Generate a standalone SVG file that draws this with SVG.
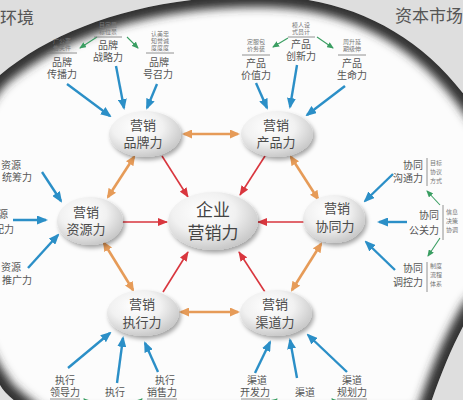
<svg xmlns="http://www.w3.org/2000/svg" width="463" height="400" viewBox="0 0 463 400">
<defs>
<style>
.t{font-family:"Liberation Sans","Noto Sans CJK SC",sans-serif;fill:#555;text-anchor:middle}
.nl{font-size:13px;fill:#4a4a4a}
.lb{font-size:10px}
.sm{font-size:6px;fill:#777}
.corner{font-size:17px;fill:#555}
.blue{stroke:#2b8fc7;stroke-width:2.4;fill:none;marker-end:url(#mb)}
.red{stroke:#d9363e;stroke-width:1.6;fill:none;marker-end:url(#mr)}
.org{stroke:#e69b58;stroke-width:2.6;fill:none;marker-start:url(#mo);marker-end:url(#mo)}
.grn{stroke:#3a9e62;stroke-width:1.1;fill:none;marker-end:url(#mg)}
.ul{stroke:#777;stroke-width:0.8}
.node{fill:url(#ng);filter:url(#sh)}
</style>
<radialGradient id="ng" cx="40%" cy="35%" r="70%">
<stop offset="0" stop-color="#ffffff"/>
<stop offset="0.5" stop-color="#f1f1f1"/>
<stop offset="1" stop-color="#c4c4c4"/>
</radialGradient>
<filter id="sh" x="-30%" y="-30%" width="160%" height="170%">
<feDropShadow dx="2" dy="3" stdDeviation="2.2" flood-color="#000" flood-opacity="0.35"/>
</filter>
<filter id="rb" x="-20%" y="-20%" width="140%" height="140%"><feGaussianBlur stdDeviation="5"/></filter>
<path id="rim" d="M -45,220 C -45,150 -25,100 0,75 C 60,25 150,-4 260,-4 C 350,-4 425,35 475,110 C 510,160 560,190 560,220 C 560,250 505,270 472,310 C 452,345 440,375 425,420 L 40,420 C 20,405 5,395 0,385 C -25,350 -45,290 -45,220 Z"/>
<clipPath id="inside"><use href="#rim"/></clipPath>
<marker id="mb" markerUnits="userSpaceOnUse" markerWidth="11" markerHeight="9" refX="9" refY="4.5" orient="auto"><path d="M0,0 L11,4.5 L0,9 z" fill="#2b8fc7"/></marker>
<marker id="mr" markerUnits="userSpaceOnUse" markerWidth="10" markerHeight="8" refX="9" refY="4" orient="auto"><path d="M0,0 L10,4 L0,8 z" fill="#d9363e"/></marker>
<marker id="mo" markerUnits="userSpaceOnUse" markerWidth="10" markerHeight="9" refX="8" refY="4.5" orient="auto-start-reverse"><path d="M0,0 L10,4.5 L0,9 z" fill="#e69b58"/></marker>
<marker id="mg" markerUnits="userSpaceOnUse" markerWidth="7" markerHeight="6" refX="6" refY="3" orient="auto"><path d="M0,0 L7,3 L0,6 z" fill="#3a9e62"/></marker>
</defs>

<g id="background">
<rect width="463" height="400" fill="#dedede"/>
<use href="#rim" fill="#fcfcfc"/>
<g clip-path="url(#inside)">
<use href="#rim" fill="none" stroke="#333" stroke-width="22" filter="url(#rb)"/>
</g>
<text class="t corner" x="0" y="24" style="text-anchor:start">环境</text>
<text class="t corner" x="463" y="22" style="text-anchor:end">资本市场</text>
</g>

<g id="connectors">
<line class="org" x1="184" y1="134" x2="238" y2="134"/>
<line class="org" x1="134" y1="157" x2="108" y2="197"/>
<line class="org" x1="291" y1="157" x2="318" y2="199"/>
<line class="org" x1="104" y1="243" x2="133" y2="290"/>
<line class="org" x1="321" y1="244" x2="292" y2="290"/>
<line class="org" x1="181" y1="312" x2="238" y2="312"/>
<line class="red" x1="162" y1="156" x2="188" y2="197"/>
<line class="red" x1="265" y1="156" x2="240" y2="195"/>
<line class="red" x1="122" y1="222" x2="167" y2="222"/>
<line class="red" x1="304" y1="222" x2="258" y2="222"/>
<line class="red" x1="163" y1="292" x2="188" y2="252"/>
<line class="red" x1="265" y1="292" x2="239" y2="252"/>
<line class="blue" x1="67" y1="84" x2="110" y2="116"/>
<line class="blue" x1="116" y1="66" x2="124" y2="108"/>
<line class="blue" x1="157" y1="84" x2="147" y2="108"/>
<line class="blue" x1="256" y1="83" x2="267" y2="108"/>
<line class="blue" x1="297" y1="65" x2="290" y2="107"/>
<line class="blue" x1="345" y1="86" x2="307" y2="115"/>
<line class="blue" x1="42" y1="172" x2="61" y2="201"/>
<line class="blue" x1="13" y1="220" x2="46" y2="220"/>
<line class="blue" x1="28" y1="268" x2="58" y2="235"/>
<line class="blue" x1="393" y1="174" x2="365" y2="201"/>
<line class="blue" x1="407" y1="222" x2="379" y2="222"/>
<line class="blue" x1="395" y1="270" x2="366" y2="242"/>
<line class="blue" x1="68" y1="368" x2="110" y2="333"/>
<line class="blue" x1="117" y1="383" x2="123" y2="338"/>
<line class="blue" x1="158" y1="372" x2="145" y2="343"/>
<line class="blue" x1="255" y1="373" x2="270" y2="342"/>
<line class="blue" x1="297" y1="378" x2="290" y2="340"/>
<line class="blue" x1="347" y1="372" x2="308" y2="335"/>
<line class="grn" x1="97" y1="37" x2="80" y2="48"/>
<line class="grn" x1="127" y1="37" x2="138" y2="48"/>
<line class="grn" x1="288" y1="38" x2="273" y2="47"/>
<line class="grn" x1="317" y1="37" x2="333" y2="48"/>
<line class="grn" x1="440" y1="205" x2="427" y2="191"/>
<line class="grn" x1="440" y1="238" x2="428" y2="256"/>
<line class="grn" x1="90" y1="404" x2="84" y2="399"/>
<line class="grn" x1="136" y1="404" x2="142" y2="399"/>
<line class="grn" x1="270" y1="404" x2="277" y2="399"/>
<line class="grn" x1="338" y1="404" x2="332" y2="399"/>
</g>

<g id="center">
<ellipse class="node" cx="213" cy="221" rx="45" ry="29"/>
<text class="t" x="213" y="216" style="font-size:17px;fill:#444">企业</text>
<text class="t" x="213" y="239" style="font-size:17px;fill:#444">营销力</text>
</g>
<g id="brand">
<ellipse class="node" cx="145" cy="134" rx="36" ry="23"/>
<text class="t nl" x="143" y="130">营销</text>
<text class="t nl" x="143" y="147">品牌力</text>
</g>
<g id="product">
<ellipse class="node" cx="277" cy="134" rx="36" ry="23"/>
<text class="t nl" x="276" y="130">营销</text>
<text class="t nl" x="276" y="147">产品力</text>
</g>
<g id="resource">
<ellipse class="node" cx="90" cy="221" rx="33" ry="24"/>
<text class="t nl" x="86" y="217">营销</text>
<text class="t nl" x="86" y="234">资源力</text>
</g>
<g id="coop">
<ellipse class="node" cx="334" cy="219" rx="31" ry="24"/>
<text class="t nl" x="337" y="213">营销</text>
<text class="t nl" x="335" y="231">协同力</text>
</g>
<g id="exec">
<ellipse class="node" cx="143" cy="313" rx="36" ry="23"/>
<text class="t nl" x="142" y="309">营销</text>
<text class="t nl" x="142" y="327">执行力</text>
</g>
<g id="channel">
<ellipse class="node" cx="276" cy="313" rx="36" ry="23"/>
<text class="t nl" x="275" y="309">营销</text>
<text class="t nl" x="275" y="327">渠道力</text>
</g>

<g id="brand-spread">
<text class="t sm" x="62" y="43">广公事</text>
<text class="t sm" x="62" y="50">告关件</text>
<line class="ul" x1="47" y1="53" x2="77" y2="53"/>
<text class="t lb" x="62" y="66">品牌</text>
<text class="t lb" x="62" y="78">传播力</text>
</g>
<g id="brand-strategy">
<text class="t sm" x="108" y="27">目定愿</text>
<text class="t sm" x="108" y="34">标位景</text>
<line class="ul" x1="94" y1="37" x2="122" y2="37"/>
<text class="t lb" x="108" y="49">品牌</text>
<text class="t lb" x="108" y="61">战略力</text>
</g>
<g id="brand-appeal">
<text class="t sm" x="160" y="36">认美忠</text>
<text class="t sm" x="160" y="43">知誉诚</text>
<text class="t sm" x="160" y="50">度度度</text>
<line class="ul" x1="146" y1="53" x2="174" y2="53"/>
<text class="t lb" x="159" y="66">品牌</text>
<text class="t lb" x="158" y="78">号召力</text>
</g>
<g id="product-value">
<text class="t sm" x="256" y="44">定服包</text>
<text class="t sm" x="256" y="51">价务装</text>
<line class="ul" x1="242" y1="55" x2="270" y2="55"/>
<text class="t lb" x="256" y="67">产品</text>
<text class="t lb" x="256" y="79">价值力</text>
</g>
<g id="product-innovation">
<text class="t sm" x="301" y="27">模人设</text>
<text class="t sm" x="301" y="34">式员计</text>
<line class="ul" x1="288" y1="37" x2="315" y2="37"/>
<text class="t lb" x="301" y="48">产品</text>
<text class="t lb" x="301" y="60">创新力</text>
</g>
<g id="product-life">
<text class="t sm" x="352" y="44">周升延</text>
<text class="t sm" x="352" y="51">期级伸</text>
<line class="ul" x1="338" y1="55" x2="366" y2="55"/>
<text class="t lb" x="352" y="67">产品</text>
<text class="t lb" x="352" y="79">生命力</text>
</g>

<g id="resource-coord">
<text class="t lb" x="21" y="169" style="text-anchor:end">资源</text>
<text class="t lb" x="32" y="181" style="text-anchor:end">统筹力</text>
</g>
<g id="resource-alloc">
<text class="t lb" x="8" y="218" style="text-anchor:end">资源</text>
<text class="t lb" x="14" y="233" style="text-anchor:end">调配力</text>
</g>
<g id="resource-promo">
<text class="t lb" x="21" y="271" style="text-anchor:end">资源</text>
<text class="t lb" x="32" y="284" style="text-anchor:end">推广力</text>
</g>

<g id="coop-comm">
<text class="t lb" x="423" y="169" style="text-anchor:end">协同</text>
<text class="t lb" x="423" y="182" style="text-anchor:end">沟通力</text>
<line class="ul" x1="427" y1="158" x2="427" y2="186"/>
<text class="t sm" x="430" y="165" style="text-anchor:start">目标</text>
<text class="t sm" x="430" y="174" style="text-anchor:start">协议</text>
<text class="t sm" x="430" y="183" style="text-anchor:start">方式</text>
</g>
<g id="coop-pr">
<text class="t lb" x="439" y="219" style="text-anchor:end">协同</text>
<text class="t lb" x="439" y="234" style="text-anchor:end">公关力</text>
<line class="ul" x1="443" y1="205" x2="443" y2="240"/>
<text class="t sm" x="446" y="214" style="text-anchor:start">信息</text>
<text class="t sm" x="446" y="223" style="text-anchor:start">决策</text>
<text class="t sm" x="446" y="232" style="text-anchor:start">协调</text>
</g>
<g id="coop-control">
<text class="t lb" x="423" y="272" style="text-anchor:end">协同</text>
<text class="t lb" x="423" y="286" style="text-anchor:end">调控力</text>
<line class="ul" x1="427" y1="262" x2="427" y2="292"/>
<text class="t sm" x="430" y="268" style="text-anchor:start">制度</text>
<text class="t sm" x="430" y="277" style="text-anchor:start">流程</text>
<text class="t sm" x="430" y="286" style="text-anchor:start">体系</text>
</g>

<g id="exec-lead">
<text class="t lb" x="65" y="384">执行</text>
<text class="t lb" x="65" y="396">领导力</text>
<line class="ul" x1="50" y1="399" x2="80" y2="399"/>
</g>
<g id="exec-mid">
<text class="t lb" x="115" y="396">执行</text>
</g>
<g id="exec-sales">
<text class="t lb" x="165" y="384">执行</text>
<text class="t lb" x="162" y="396">销售力</text>
<line class="ul" x1="147" y1="399" x2="177" y2="399"/>
</g>
<g id="channel-dev">
<text class="t lb" x="257" y="384">渠道</text>
<text class="t lb" x="255" y="396">开发力</text>
<line class="ul" x1="241" y1="399" x2="270" y2="399"/>
</g>
<g id="channel-mid">
<text class="t lb" x="305" y="396">渠道</text>
</g>
<g id="channel-plan">
<text class="t lb" x="352" y="384">渠道</text>
<text class="t lb" x="352" y="396">规划力</text>
<line class="ul" x1="337" y1="399" x2="367" y2="399"/>
</g>
</svg>
